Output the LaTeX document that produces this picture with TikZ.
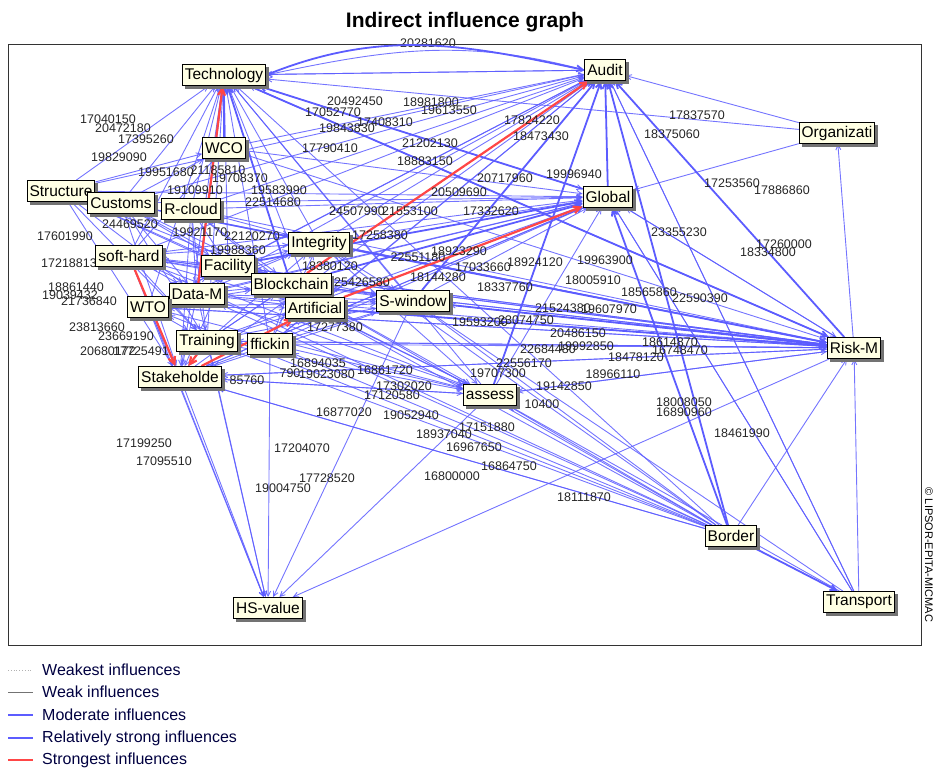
\documentclass[tikz,border=0pt]{standalone}
\usepackage{fontspec}
\setmainfont{Liberation Sans}
\usetikzlibrary{arrows.meta}

\definecolor{infblue}{RGB}{92,92,255}
\definecolor{infred}{RGB}{255,70,70}
\definecolor{varfill}{RGB}{255,255,228}

\tikzset{
  var/.style={draw=black, line width=0.9pt, fill=varfill, inner xsep=2.5pt, inner ysep=0pt,
    minimum height=21pt, font=\fontsize{15.5}{17}\selectfont},
  val/.style={font=\fontsize{12.5}{13}\selectfont, text=black!85, inner sep=0pt},
  mod/.style={draw=infblue, opacity=0.85, line width=0.9pt, -{Straight Barb[length=5pt,width=5pt]}},
  strong/.style={draw=infblue, line width=1.8pt, -{Straight Barb[length=6pt,width=6pt]}},
  top/.style={draw=infred, line width=2.2pt, -{Straight Barb[length=7pt,width=7pt]}},
  legtext/.style={anchor=west, font=\fontsize{16}{18}\selectfont, text=black!75!blue, inner sep=0pt}
}

\begin{document}
\begin{tikzpicture}[x=1pt,y=-1pt]
\useasboundingbox (0,0) rectangle (935,769);

% Title and frame
\node[font=\bfseries\fontsize{21}{24}\selectfont] (title) at (465,22) {Indirect influence graph};
\draw[black!80, line width=0.9pt] (8,44) rectangle (921,645);
\node[val] at (428,43) {20281620};
\node[rotate=-90, font=\fontsize{11}{12}\selectfont, inner sep=0pt] at (929,555) {© LIPSOR-EPITA-MICMAC};

% Variables (placed first, drawn again on top at the end)
\path
  (224,75)  coordinate (tech)   (605,70)  coordinate (audit)
  (837,133) coordinate (org)    (224,148) coordinate (wco)
  (61,191)  coordinate (struc)  (121,203) coordinate (cust)
  (191,209) coordinate (rcl)    (608,197) coordinate (glob)
  (319,243) coordinate (integ)  (129,256) coordinate (soft)
  (228,266) coordinate (fac)    (291,284) coordinate (block)
  (197,294) coordinate (datam)  (148,307) coordinate (wto)
  (315,308) coordinate (artif)  (413,301) coordinate (swin)
  (207,341) coordinate (train)  (270,344) coordinate (traf)
  (180,377) coordinate (stake)  (490,395) coordinate (assess)
  (854,348) coordinate (riskm)  (731,536) coordinate (border)
  (268,608) coordinate (hsv)    (859,602) coordinate (transp);

\node[var, opacity=0] (Ntech)   at (tech)   {Technology};
\node[var, opacity=0] (Naudit)  at (audit)  {Audit};
\node[var, opacity=0] (Norg)    at (org)    {Organizati};
\node[var, opacity=0] (Nwco)    at (wco)    {WCO};
\node[var, opacity=0] (Nstruc)  at (struc)  {Structure};
\node[var, opacity=0] (Ncust)   at (cust)   {Customs};
\node[var, opacity=0] (Nrcl)    at (rcl)    {R-cloud};
\node[var, opacity=0] (Nglob)   at (glob)   {Global};
\node[var, opacity=0] (Ninteg)  at (integ)  {Integrity};
\node[var, opacity=0] (Nsoft)   at (soft)   {soft-hard};
\node[var, opacity=0] (Nfac)    at (fac)    {Facility};
\node[var, opacity=0] (Nblock)  at (block)  {Blockchain};
\node[var, opacity=0] (Ndatam)  at (datam)  {Data-M};
\node[var, opacity=0] (Nwto)    at (wto)    {WTO};
\node[var, opacity=0] (Nartif)  at (artif)  {Artificial};
\node[var, opacity=0] (Nswin)   at (swin)   {S-window};
\node[var, opacity=0] (Ntrain)  at (train)  {Training};
\node[var, opacity=0] (Ntraf)   at (traf)   {ffickin};
\node[var, opacity=0] (Nstake)  at (stake)  {Stakeholde};
\node[var, opacity=0] (Nassess) at (assess) {assess};
\node[var, opacity=0] (Nriskm)  at (riskm)  {Risk-M};
\node[var, opacity=0] (Nborder) at (border) {Border};
\node[var, opacity=0] (Nhsv)    at (hsv)    {HS-value};
\node[var, opacity=0] (Ntransp) at (transp) {Transport};

% Moderate influences
\foreach \s in {struc,cust,soft,fac,wto,train,traf,stake,integ,artif,swin,assess,org,riskm,border,rcl}
  \draw[mod] (N\s) -- (Ntech);
\foreach \s in {wco,integ,fac,org,stake,cust,struc,rcl,soft,datam,artif,train,traf,wto,transp,tech}
  \draw[mod] (N\s) -- (Naudit);
\foreach \s in {tech,integ,swin,assess,org,riskm,stake,soft,datam,wto,train,traf,cust,rcl,struc,wco,transp,artif}
  \draw[mod] (N\s) -- (Nglob);
\foreach \s in {assess,stake,block,integ,fac,train,traf,datam,soft,wto,border,tech,glob,cust,rcl,transp,struc,wco}
  \draw[mod] (N\s) -- (Nriskm);
\foreach \t in {org,stake,assess,swin,hsv,wto,train,artif,block,soft,fac}
  \draw[mod] (Nriskm) -- (N\t);
\foreach \s in {stake,wto,train,traf,datam,swin,assess,soft}
  \draw[mod] (N\s) -- (Nhsv);
\foreach \s in {assess,border,swin,glob}
  \draw[mod] (N\s) -- (Nstake);
\foreach \t in {stake,train,traf,assess,artif,block,swin,integ,wto,datam,soft}
  \draw[mod] (Nborder) -- (N\t);
\foreach \t in {glob,audit,assess,swin}
  \draw[mod] (Ntransp) -- (N\t);
\foreach \s in {stake,train,traf,artif,block,integ,fac,datam,wto,soft}
  \draw[mod] (N\s) -- (Nassess);
\foreach \s in {block,artif,integ,fac,datam,soft,wto,train,traf}
  \draw[mod] (N\s) -- (Nswin);
\foreach \a in {cust,rcl,soft,fac,datam,wto,train,traf,struc}
  \foreach \b in {block,integ,artif,stake}
    \draw[mod] (N\a) -- (N\b);
\foreach \a in {cust,rcl,soft,wto,struc}
  \foreach \b in {fac,datam,train}
    \draw[mod] (N\a) -- (N\b);
\foreach \s in {struc,cust,soft}
  \draw[mod] (N\s) -- (Nwco);
\draw[mod] (Naudit) -- (Ntech);
\draw[mod] (Naudit.west) to[out=165,in=12] (Ntech.east);

% Relatively strong influences
\foreach \s in {block,glob,datam,wco}
  \draw[strong] (N\s) -- (Ntech);
\foreach \s in {glob,border,riskm,assess,swin}
  \draw[strong] (N\s) -- (Naudit);
\foreach \s in {block,fac,border}
  \draw[strong] (N\s) -- (Nglob);
\foreach \s in {swin,artif,integ}
  \draw[strong] (N\s) -- (Nriskm);
\draw[strong] (Ntech) -- (Nriskm);
\draw[strong] (Nborder) -- (Ntransp);
\draw[strong] (Ntech.east) to[out=22,in=168] (Naudit.west);

% Strongest influences
\draw[top] (Ndatam) -- (Ntech);
\draw[top] (Nblock) -- (Naudit);
\draw[top] (Nartif) -- (Nglob);
\draw[top] (Nsoft) -- (Nstake);
\draw[top] (Ntrain) -- (Nstake);
\draw[top] (Nstake) -- (Nartif);

% Values
\foreach \x/\y/\v in {
  355/101/20492450, 431/102/18981800, 449/110/19613550, 333/112/17052770,
  385/122/17408310, 347/128/19843830, 430/143/21202130, 330/148/17790410,
  108/119/17040150, 123/128/20472180, 146/139/17395260, 119/157/19829090,
  166/172/19951680, 218/170/21185810, 240/178/19708370, 195/190/19109910,
  279/190/19583990, 273/202/22514680, 130/224/24469520, 200/232/19921170,
  252/236/22120270, 238/250/19988360, 65/236/17601990, 69/263/17218813,
  532/120/17824220, 541/136/18473430, 697/115/17837570, 672/134/18375060,
  574/174/19996940, 732/183/17253560, 782/190/17886860, 679/232/23355230,
  784/244/17260000, 768/252/18334800, 459/192/20509690, 491/211/17332620,
  357/211/24507990, 410/211/21553100, 380/235/17258380, 418/257/22551180,
  483/267/17033660, 535/262/18924120, 605/260/19963900, 593/280/18005910,
  649/292/18565860, 700/298/22590390, 563/308/21524380, 609/309/19607970,
  526/320/23074750, 578/333/20486150, 586/346/19992850, 636/357/18478120,
  613/374/18966110, 564/386/19142850, 524/363/22556170, 498/373/19707300,
  670/342/18614870, 680/350/16748470, 684/402/18008050, 684/412/16890960,
  742/433/18461990, 344/412/16877020, 411/415/19052940, 444/434/18937040,
  487/427/17151880, 474/447/16967650, 509/466/16864750, 452/476/16800000,
  302/448/17204070, 327/478/17728520, 283/488/19004750, 144/443/17199250,
  164/461/17095510, 584/497/18111870, 392/395/17120580, 404/386/17302020,
  327/374/19023080, 385/370/16861720, 318/363/16894035, 97/327/23813660,
  126/336/23669190, 108/351/20680172, 141/351/17725491, 76/287/18861440,
  70/295/19039432, 89/301/21736840, 362/282/25426580, 335/327/17277380,
  480/322/19593200, 459/251/18923290, 438/277/18144280, 505/287/18337760,
  548/349/22684480, 330/266/18380120, 425/161/18883150, 505/178/20717960}
  \node[val] at (\x,\y) {\v};
\node[val] at (542,404) {10400};
\node[val] at (247,380) {85760};
\node[val] at (290,373) {790};

% Variables on top, each with its shadow
\foreach \n/\t in {tech/Technology, audit/Audit, org/Organizati, wco/WCO, struc/Structure,
  cust/Customs, rcl/R-cloud, glob/Global, integ/Integrity, soft/soft-hard, fac/Facility,
  block/Blockchain, datam/Data-M, wto/WTO, artif/Artificial, swin/S-window, train/Training,
  traf/ffickin, stake/Stakeholde, assess/assess, riskm/Risk-M, border/Border, hsv/HS-value,
  transp/Transport}
{
  \fill[black!55] ([shift={(3pt,-3pt)}]N\n.south west) rectangle ([shift={(3pt,-3pt)}]N\n.north east);
  \node[var] at (\n) {\t};
}

% Legend
\draw[black!30, dotted, line width=0.8pt] (8,670) -- (33,670);
\draw[black!55, line width=1pt] (8,692) -- (33,692);
\draw[infblue, line width=1.2pt] (8,715) -- (33,715);
\draw[infblue, line width=2.4pt] (8,738) -- (33,738);
\draw[infred, line width=2.8pt] (8,760) -- (33,760);
\node[legtext] at (42,670) {Weakest influences};
\node[legtext] at (42,692) {Weak influences};
\node[legtext] at (42,715) {Moderate influences};
\node[legtext] at (42,738) {Relatively strong influences};
\node[legtext] at (42,760) {Strongest influences};

\end{tikzpicture}
\end{document}
